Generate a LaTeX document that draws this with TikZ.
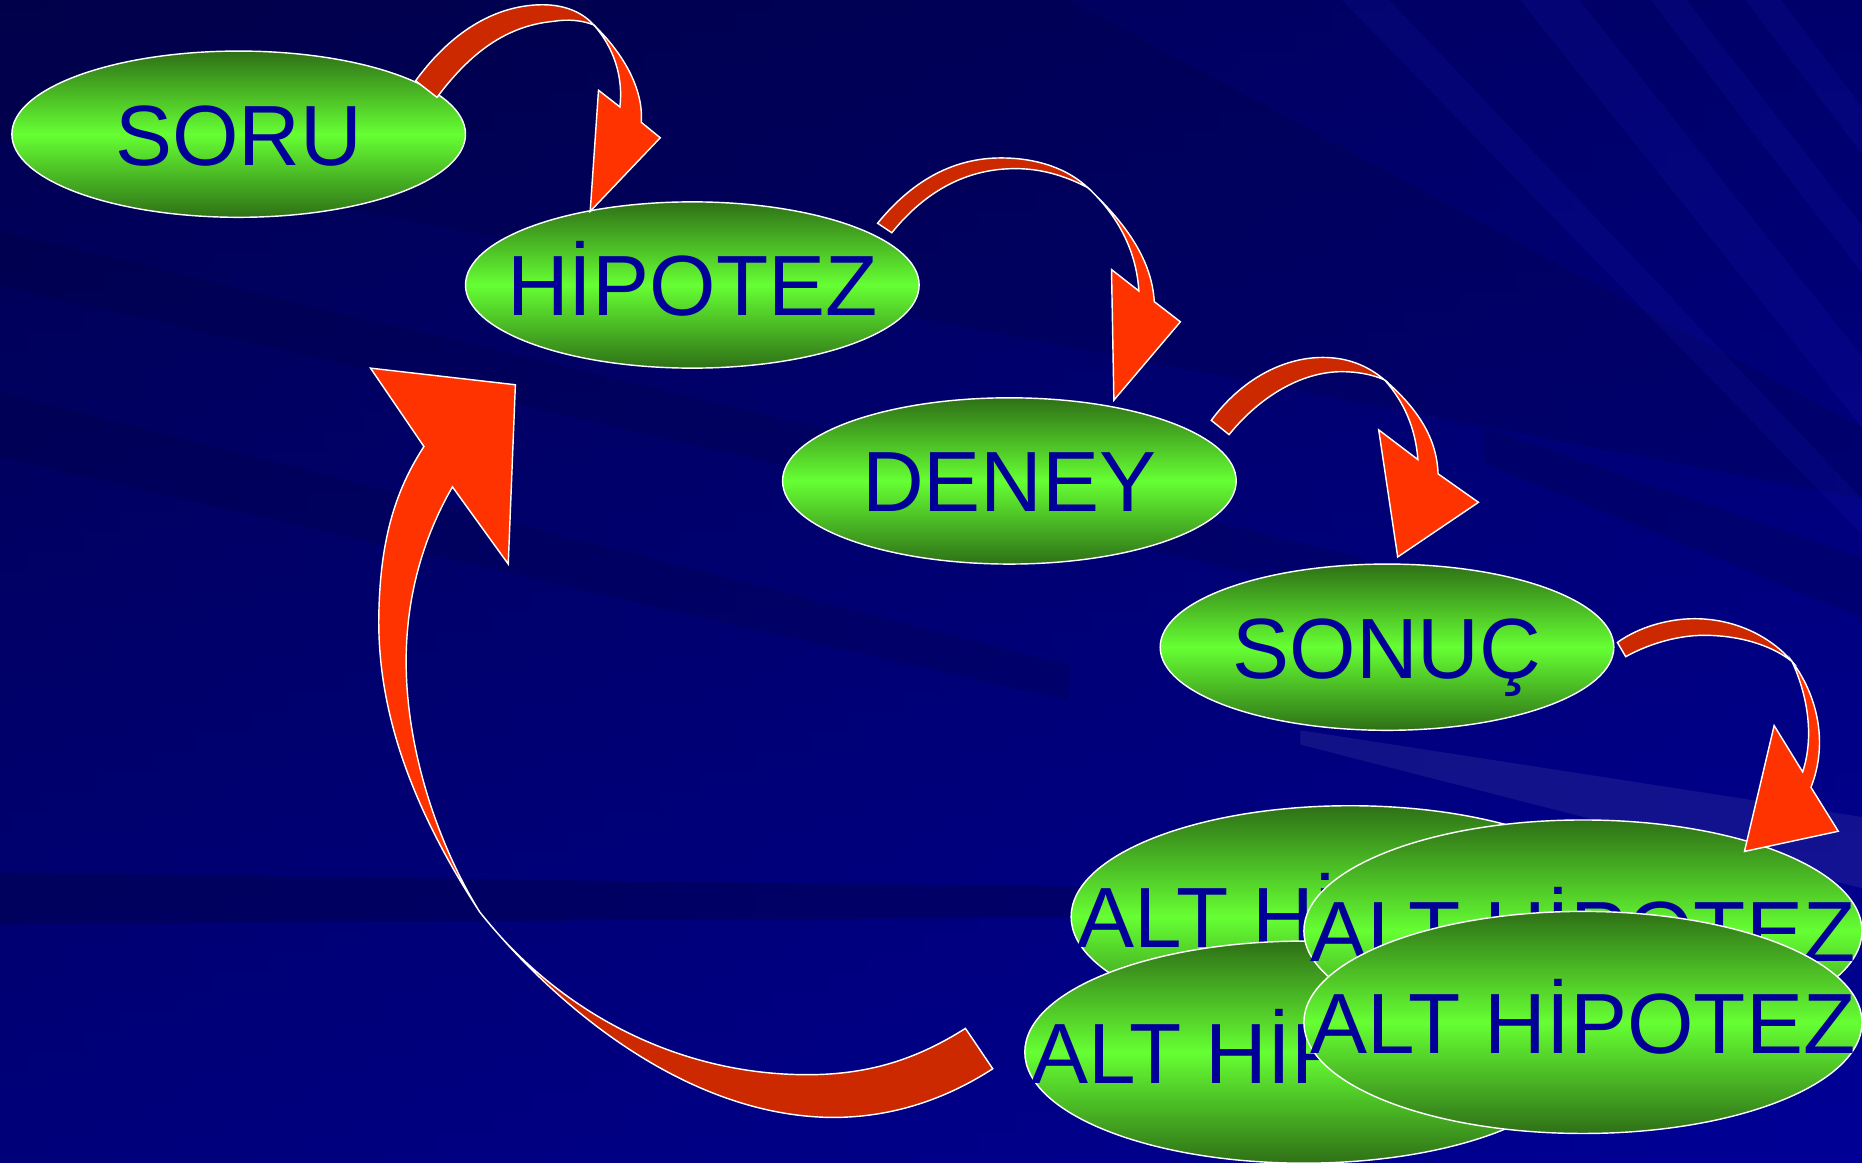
\documentclass[tikz,border=0pt]{standalone}
\usepackage{fontspec}
\setmainfont{Liberation Sans}
\usetikzlibrary{shapes.geometric}

\definecolor{bgnavy}{RGB}{0,0,150}
\definecolor{bgtop}{RGB}{0,0,92}
\definecolor{bgdark}{RGB}{0,0,50}
\definecolor{bglight}{RGB}{40,40,210}
\definecolor{grlight}{RGB}{102,255,51}
\definecolor{grdark}{RGB}{46,112,22}
\definecolor{txtblue}{RGB}{0,0,153}
\definecolor{bandback}{RGB}{204,41,0}
\definecolor{bandfront}{RGB}{255,51,0}

\tikzset{
    bubble/.style={ellipse, draw=white, line width=1.2pt, inner sep=0pt,
        top color=grdark, bottom color=grdark, middle color=grlight,
        minimum width=382pt, minimum height=140pt, text=txtblue,
        font=\fontsize{72}{80}\selectfont, text height=52pt, text depth=0pt},
    bigbubble/.style={bubble, minimum width=470pt, minimum height=187pt},
    backband/.style={fill=bandback, draw=white, line width=1.2pt, line join=miter},
    frontband/.style={fill=bandfront, draw=white, line width=1.2pt, line join=miter},
    streak/.style={fill=bglight, opacity=.12},
    shadow/.style={fill=bgdark, opacity=.18}
}

\begin{document}
\begin{tikzpicture}[x=1pt, y=-1pt]
    \useasboundingbox (0,0) rectangle (1568,979);

    % Background
    \shade[top color=bgtop, bottom color=bgnavy] (0,0) rectangle (1568,979);
    \shade[left color=bgdark, right color=bgnavy, opacity=.28] (0,0) rectangle (1568,979);
    \fill[shadow] (0,0) -- (900,0) -- (1568,360) -- (1568,420) -- (0,120) -- cycle;
    \fill[shadow] (0,195) -- (1150,470) -- (1150,505) -- (0,240) -- cycle;
    \fill[shadow] (0,330) -- (900,560) -- (900,590) -- (0,385) -- cycle;
    \fill[shadow] (1250,360) -- (1568,470) -- (1568,520) -- (1250,390) -- cycle;
    \fill[shadow, opacity=.3] (0,735) -- (1000,748) -- (1000,772) -- (0,778) -- cycle;
    \fill[streak] (1280,0) -- (1330,0) -- (1568,300) -- (1568,360) -- cycle;
    \fill[streak] (1390,0) -- (1420,0) -- (1568,190) -- (1568,230) -- cycle;
    \fill[streak] (1470,0) -- (1500,0) -- (1568,90) -- (1568,130) -- cycle;
    \fill[streak] (1130,0) -- (1170,0) -- (1568,420) -- (1568,450) -- cycle;
    \fill[white, opacity=.07] (1095,615) -- (1568,688) -- (1568,748) -- (1095,627) -- cycle;

    % Main chain
    \node[bubble] (soru) at (201,113) {\makebox[0pt]{SORU}};
    \node[bubble] (hipotez) at (583,240) {\makebox[0pt]{HİPOTEZ}};
    \node[bubble] (deney) at (850,405) {\makebox[0pt]{DENEY}};
    \node[bubble] (sonuc) at (1168,545) {\makebox[0pt]{SONUÇ}};

    % Sub hypotheses
    \node[bigbubble] (althipa) at (1137,772) {\makebox[0pt]{ALT HİPOTEZ}};
    \node[bigbubble] (althipb) at (1098,886) {\makebox[0pt]{ALT HİPOTEZ}};
    \node[bigbubble] (althipc) at (1333,784) {\makebox[0pt]{ALT HİPOTEZ}};
    \node[bigbubble] (althipd) at (1333,861) {\makebox[0pt]{ALT HİPOTEZ}};

    % Curved arrows
    \filldraw[backband] (350,68) .. controls (382,24) and (420,4) .. (457,4)
        .. controls (478,4) and (492,12) .. (500,21)
        .. controls (490,17) and (478,16) .. (466,18)
        .. controls (422,22) and (392,50) .. (368,82) -- cycle;
    \filldraw[frontband] (500,21) .. controls (527,47) and (542,77) .. (540,103)
        -- (556,116) -- (497,178) -- (504,76) -- (522,90)
        .. controls (525,65) and (517,40) .. (500,21) -- cycle;

    \filldraw[backband] (739,188) .. controls (770,150) and (805,133) .. (843,133)
        .. controls (875,133) and (900,143) .. (916,158)
        .. controls (895,147) and (875,142) .. (855,142)
        .. controls (815,142) and (780,160) .. (751,196) -- cycle;
    \filldraw[frontband] (916,158) .. controls (950,190) and (970,220) .. (972,254)
        -- (994,271) -- (938,337) -- (936,227) -- (959,245)
        .. controls (957,210) and (940,180) .. (916,158) -- cycle;

    \filldraw[backband] (1020,354) .. controls (1045,320) and (1080,301) .. (1114,301)
        .. controls (1135,301) and (1152,308) .. (1166,320)
        .. controls (1155,315) and (1142,313) .. (1130,313)
        .. controls (1095,313) and (1060,335) .. (1035,366) -- cycle;
    \filldraw[frontband] (1166,320) .. controls (1195,345) and (1210,370) .. (1211,399)
        -- (1245,423) -- (1177,469) -- (1161,362) -- (1194,387)
        .. controls (1192,360) and (1182,338) .. (1166,320) -- cycle;

    \filldraw[backband] (1362,541) .. controls (1380,528) and (1405,521) .. (1427,521)
        .. controls (1460,521) and (1490,535) .. (1509,557)
        .. controls (1490,542) and (1462,535) .. (1435,535)
        .. controls (1410,535) and (1385,544) .. (1369,553) -- cycle;
    \filldraw[frontband] (1509,557) .. controls (1530,585) and (1540,625) .. (1525,663)
        -- (1548,700) -- (1469,717) -- (1494,611) -- (1518,650)
        .. controls (1528,620) and (1522,585) .. (1509,557) -- cycle;

    % Return arrow
    \filldraw[backband] (404,768) .. controls (470,850) and (580,940) .. (701,941)
        .. controls (760,941) and (805,920) .. (836,900) -- (813,866)
        .. controls (775,890) and (735,905) .. (680,905)
        .. controls (570,905) and (470,852) .. (404,768) -- cycle;
    \filldraw[frontband] (404,768) .. controls (340,670) and (318,590) .. (319,519)
        .. controls (320,450) and (335,410) .. (357,376)
        -- (312,310) -- (434,324) -- (428,475) -- (381,410)
        .. controls (355,455) and (342,505) .. (342,557)
        .. controls (342,630) and (368,710) .. (404,768) -- cycle;
\end{tikzpicture}
\end{document}
